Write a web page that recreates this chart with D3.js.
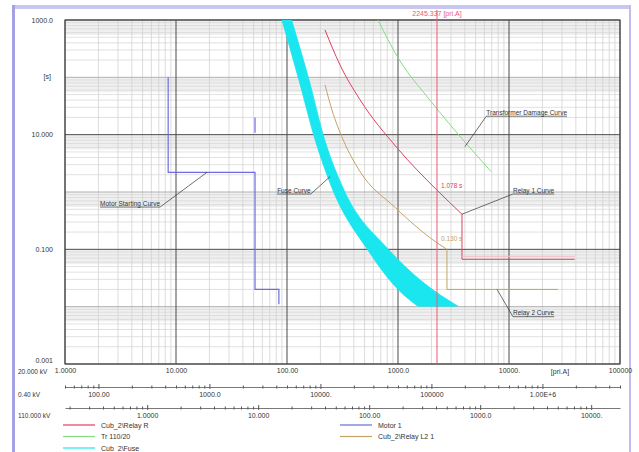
<!DOCTYPE html>
<html><head><meta charset="utf-8">
<script src="https://cdn.jsdelivr.net/npm/d3@7"></script>
<style>
body{margin:0;background:#fff;}
svg{display:block;font-family:"Liberation Sans",Arial,sans-serif;}
</style></head>
<body><svg id="c" width="639" height="452"></svg>
<script>
// ---------- data (current in primary A at 20 kV, time in s) ----------
const xTickValues = [1, 10, 100, 1000, 10000, 100000];
const xTickLabels = ["1.0000", "10.000", "100.00", "1000.0", "10000.", "100000"];
const yTickValues = [1000, 10, 0.1, 0.001];
const yTickLabels = ["1000.0", "10.000", "0.100", "0.001"];
const lvTickValues = [100, 1000, 10000, 100000, 1000000];
const lvTickLabels = ["100.00", "1000.0", "10000.", "100000", "1.00E+6"];
const hvTickValues = [1, 10, 100, 1000, 10000];
const hvTickLabels = ["1.0000", "10.000", "100.00", "1000.0", "10000."];
const voltages = {main: 20, lv: 0.4, hv: 110};

const fuseMinMelt = [[90,1000],[128,90],[179,8.2],[258,1.1],[530,0.1],[1000,0.02],[1510,0.0102]];
const fuseClearing = [[110,1000],[158,90],[218,8.2],[325,1.1],[820,0.1],[1750,0.025],[3470,0.0102]];
const relayR = [[220,670],[300,165],[455,40.6],[980,5.9],[2245,1.078],[3770,0.41]];
const relayRDef = [[3770,0.41],[3770,0.067],[39000,0.067]];
const relayL2 = [[220,74],[254,27],[320,8.2],[455,2.27],[940,0.54],[2245,0.13],[2760,0.1]];
const relayL2Def = [[2760,0.1],[2760,0.02],[27600,0.02]];
const trafoDamage = [[660,1000],[1000,220],[1940,40],[4200,6.7],[6900,2.27]];
const motorStart = [[8.5,100],[8.5,2.2],[51.5,2.2],[51.5,0.02],[84.5,0.02],[84.5,0.011]];
const motorExtra = [[51.5,20],[51.5,10.8]];
const cursorCurrent = 2245;
const cursorLabel = "2245.337 [pri.A]";
const cursorTimes = [[1.078,"1.078 s"],[0.130,"0.130 s"]];

const legendLeft = ["Cub_2\\Relay R", "Tr 110/20", "Cub_2\\Fuse"];
const legendRight = ["Motor 1", "Cub_2\\Relay L2 1"];

// annotation: text anchor (I,t), pointer (I,t), side of leader
const annotations = [
  {text:"Motor Starting Curve", at:[2.07,0.58], to:[19,2.2], side:"end"},
  {text:"Fuse Curve", at:[81.5,0.98], to:[245,1.86], side:"end"},
  {text:"Transformer Damage Curve", at:[6250,22.3], to:[4007,6.18], side:"start"},
  {text:"Relay 1 Curve", at:[10860,0.98], to:[3770,0.41], side:"start"},
  {text:"Relay 2 Curve", at:[10860,0.0071], to:[7800,0.02], side:"start"}
];

// ---------- styles ----------
const C = {red:"#e0405e", green:"#86dc86", cyan:"#19e6ee", blue:"#6c6cdc", olive:"#c4a466", cursor:"#ee5a74"};

const svg = d3.select("#c");
const L = 65, R = 620, T = 20, B = 364;
const x = d3.scaleLog().domain([1, 1e5]).range([L, R]);
const y = d3.scaleLog().domain([0.001, 1000]).range([B, T]);

// outer window frame
svg.append("rect").attr("x",13).attr("y",5).attr("width",618).attr("height",4).attr("fill","#c9c6ef");
svg.append("rect").attr("x",12).attr("y",5).attr("width",3).attr("height",447).attr("fill","#a4a2e4");
svg.append("rect").attr("x",629).attr("y",5).attr("width",2).attr("height",447).attr("fill","#c0bef0");

// grey bands below each decade
const decadesY = d3.range(-3, 3).map(e => Math.pow(10, e + 1));
svg.append("g").selectAll("rect").data(decadesY).join("rect")
  .attr("x", L).attr("width", R - L)
  .attr("y", d => y(d)).attr("height", d => y(d * 0.55) - y(d))
  .attr("fill", "#f0f0f0");

// minor grid
const minor = [];
for (let e = 0; e < 5; e++) for (let m = 2; m <= 9; m++) minor.push(m * Math.pow(10, e));
const minorY = [];
for (let e = -3; e < 3; e++) for (let m = 2; m <= 9; m++) minorY.push(m * Math.pow(10, e));
const grid = svg.append("g");
grid.selectAll(".vx").data(minor).join("line")
  .attr("x1", d => x(d)).attr("x2", d => x(d)).attr("y1", T).attr("y2", B)
  .attr("stroke", "#cdcdcd").attr("stroke-width", 0.7);
grid.selectAll(".hy").data(minorY).join("line")
  .attr("y1", d => y(d)).attr("y2", d => y(d)).attr("x1", L).attr("x2", R)
  .attr("stroke", "#d4d4d4").attr("stroke-width", 0.7);
// medium decade lines
grid.selectAll(".hm").data([100, 1, 0.01]).join("line")
  .attr("y1", d => y(d)).attr("y2", d => y(d)).attr("x1", L).attr("x2", R)
  .attr("stroke", "#a8a8a8").attr("stroke-width", 0.9);
// major lines
grid.selectAll(".vM").data(xTickValues).join("line")
  .attr("x1", d => x(d)).attr("x2", d => x(d)).attr("y1", T).attr("y2", B)
  .attr("stroke", "#4a4a4a").attr("stroke-width", 1);
grid.selectAll(".hM").data(yTickValues).join("line")
  .attr("y1", d => y(d)).attr("y2", d => y(d)).attr("x1", L).attr("x2", R)
  .attr("stroke", "#4a4a4a").attr("stroke-width", 1);
svg.append("rect").attr("x", L).attr("y", T).attr("width", R - L).attr("height", B - T)
  .attr("fill", "none").attr("stroke", "#444").attr("stroke-width", 1);

// clip
svg.append("clipPath").attr("id", "pc").append("rect")
  .attr("x", L).attr("y", T).attr("width", R - L).attr("height", B - T);
const plot = svg.append("g").attr("clip-path", "url(#pc)");

const line = d3.line().x(d => x(d[0])).y(d => y(d[1]));
const smooth = d3.line().x(d => x(d[0])).y(d => y(d[1])).curve(d3.curveMonotoneX);

// fuse band
const pMin = smooth(fuseMinMelt);
const pClr = smooth(fuseClearing.slice().reverse()).replace(/^M/, "L");
plot.append("path").attr("d", pMin + pClr + "Z").attr("fill", C.cyan).attr("stroke", C.cyan).attr("stroke-width", 0.8);

// curves
plot.append("path").attr("d", smooth(trafoDamage)).attr("fill","none").attr("stroke",C.green).attr("stroke-width",1);
plot.append("path").attr("d", smooth(relayR)).attr("fill","none").attr("stroke",C.red).attr("stroke-width",1);
plot.append("path").attr("d", line(relayRDef)).attr("fill","none").attr("stroke",C.red).attr("stroke-width",1);
plot.append("path").attr("d", line(relayRDef.slice(1))).attr("fill","none")
  .attr("stroke","#f4bcc8").attr("stroke-width",1).attr("transform","translate(0,-3)");
plot.append("path").attr("d", smooth(relayL2)).attr("fill","none").attr("stroke",C.olive).attr("stroke-width",1);
plot.append("path").attr("d", line(relayL2Def)).attr("fill","none").attr("stroke",C.olive).attr("stroke-width",1);
plot.append("path").attr("d", line(motorStart)).attr("fill","none").attr("stroke",C.blue).attr("stroke-width",1.2);
plot.append("path").attr("d", line(motorExtra)).attr("fill","none").attr("stroke",C.blue).attr("stroke-width",1.2);

// cursor
svg.append("line").attr("x1", x(cursorCurrent)).attr("x2", x(cursorCurrent)).attr("y1", 10).attr("y2", B)
  .attr("stroke", C.cursor).attr("stroke-width", 1);
svg.append("text").attr("x", x(cursorCurrent)).attr("y", 16).attr("text-anchor","middle")
  .attr("font-size", 7).attr("fill", C.cursor).text(cursorLabel);
svg.append("g").selectAll("text").data(cursorTimes).join("text")
  .attr("x", x(cursorCurrent) + 4).attr("y", d => y(d[0]) - 2)
  .attr("font-size", 6.5).attr("fill", (d, i) => i === 0 ? C.red : C.olive).text(d => d[1]);

// annotations
const ann = svg.append("g");
annotations.forEach(a => {
  const tx = x(a.at[0]), ty = y(a.at[1]);
  const t = ann.append("text").attr("x", tx).attr("y", ty).attr("font-size", 6.5).attr("fill", "#333").text(a.text);
  const w = t.node().getComputedTextLength();
  ann.append("line").attr("x1", tx).attr("x2", tx + w).attr("y1", ty + 1.5).attr("y2", ty + 1.5)
    .attr("stroke", "#333").attr("stroke-width", 0.7);
  const sx = a.side === "end" ? tx + w : tx;
  ann.append("line").attr("x1", sx).attr("y1", ty + 1.5).attr("x2", x(a.to[0])).attr("y2", y(a.to[1]))
    .attr("stroke", "#333").attr("stroke-width", 0.7);
});

// main axes labels
const xa = svg.append("g").attr("transform", `translate(0,${B})`)
  .call(d3.axisBottom(x).tickValues(xTickValues).tickSize(0).tickPadding(4)
    .tickFormat((d, i) => xTickLabels[i]));
xa.select(".domain").remove();
xa.selectAll("text").attr("font-size", 7).attr("fill", "#333").attr("font-family", null);
const ya = svg.append("g").attr("transform", `translate(${L - 12},0)`)
  .call(d3.axisLeft(y).tickValues(yTickValues).tickSize(0).tickPadding(0)
    .tickFormat((d, i) => yTickLabels[i]));
ya.select(".domain").remove();
ya.selectAll("text").attr("font-size", 7).attr("fill", "#333").attr("font-family", null);
ya.selectAll(".tick").filter(d => d === 0.001).select("text").attr("dy", "-0.2em");
svg.append("text").attr("x", 51).attr("y", y(100) + 2).attr("text-anchor","end").attr("font-size",7).attr("fill","#333").text("[s]");
svg.append("text").attr("x", 18).attr("y", B + 10).attr("font-size", 6.5).attr("fill","#333").text(voltages.main.toFixed(3) + " kV");
svg.append("text").attr("x", 560).attr("y", B + 10).attr("text-anchor","middle").attr("font-size", 7).attr("fill","#333").text("[pri.A]");

// secondary axes
function secAxis(v, yPos, values, labels, name) {
  const k = voltages.main / v;
  const s = d3.scaleLog().domain([1 * k, 1e5 * k]).range([L, R]);
  const [a0, a1] = s.domain();
  const all = [];
  for (let e = Math.floor(Math.log10(a0)); e <= Math.ceil(Math.log10(a1)); e++)
    for (let m = 1; m <= 9; m++) { const val = m * Math.pow(10, e); if (val >= a0 && val <= a1) all.push(val); }
  const isMajor = d => values.some(q => Math.abs(q - d) / q < 1e-6);
  const g = svg.append("g").attr("transform", `translate(0,${yPos})`)
    .call(d3.axisBottom(s).tickValues(all).tickSizeOuter(0).tickSizeInner(0).tickPadding(5)
      .tickFormat(d => { const i = values.findIndex(q => Math.abs(q - d) / q < 1e-6); return i >= 0 ? labels[i] : ""; }));
  g.select(".domain").attr("stroke", "#555").attr("stroke-width", 0.8);
  g.selectAll(".tick line").attr("stroke", "#555")
    .attr("y1", d => isMajor(d) ? -3 : -1.5)
    .attr("y2", d => isMajor(d) ? 2 : 1.5);
  g.selectAll("text").attr("font-size", 7).attr("fill", "#333").attr("font-family", null);
  svg.append("text").attr("x", 18).attr("y", yPos + 10).attr("font-size", 6.5).attr("fill","#333").text(name);
}
secAxis(voltages.lv, 387, lvTickValues, lvTickLabels, voltages.lv.toFixed(2) + " kV");
secAxis(voltages.hv, 408, hvTickValues, hvTickLabels, voltages.hv.toFixed(3) + " kV");

// legend
const legCols = [
  {x0: 63, items: legendLeft, colors: [C.red, C.green, C.cyan]},
  {x0: 340, items: legendRight, colors: [C.blue, C.olive]}
];
legCols.forEach(col => {
  const g = svg.append("g");
  g.selectAll("line").data(col.items).join("line")
    .attr("x1", col.x0).attr("x2", col.x0 + 32)
    .attr("y1", (d, i) => 425 + i * 11.5).attr("y2", (d, i) => 425 + i * 11.5)
    .attr("stroke", (d, i) => col.colors[i]).attr("stroke-width", 1.2);
  g.selectAll("text").data(col.items).join("text")
    .attr("x", col.x0 + 38).attr("y", (d, i) => 427.5 + i * 11.5)
    .attr("font-size", 7).attr("fill", "#333").text(d => d);
});
</script></body></html>
